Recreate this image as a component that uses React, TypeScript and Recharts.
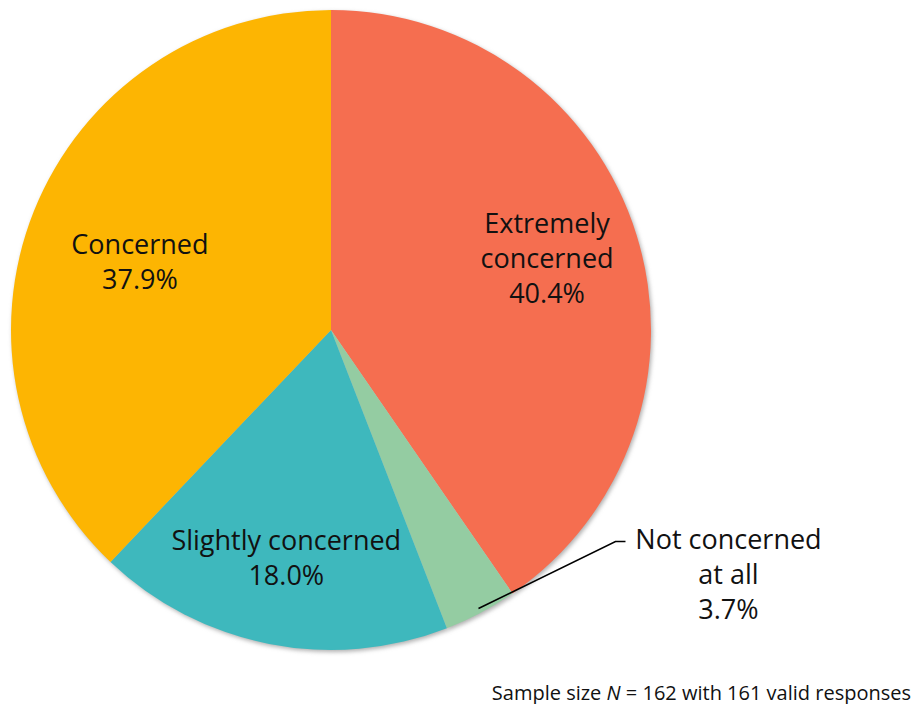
import React from "react";
import { PieChart, Pie, Cell } from "recharts";

const categories = ["Extremely concerned", "Not concerned at all", "Slightly concerned", "Concerned"];
const values = [40.4, 3.7, 18.0, 37.9];
const labelLines = [["Extremely", "concerned"], ["Not concerned", "at all"], ["Slightly concerned"], ["Concerned"]];
const footnotePre = "Sample size ";
const footnoteN = "N";
const footnotePost = " = 162 with 161 valid responses";

const colors = ["#F56E50", "#94CCA2", "#3EB8BD", "#FDB502"];
const labelRadiusFactor = [0.707, 0, 0.722, 0.643];
const labelOffsetY = [-5, 0, 0, 7];
const FONT = "'Open Sans', Lato, sans-serif";
const FS = 27;
const LH = 35;

const data = categories.map((name, i) => ({ name, value: values[i] }));

const RAD = Math.PI / 180;

const renderLabel = (props: any) => {
  const { cx, cy, midAngle, outerRadius, index, value } = props;
  const lines = [...labelLines[index], `${value.toFixed(1)}%`];
  if (index === 1) {
    const sx = cx + outerRadius * 0.985 * Math.cos(-midAngle * RAD);
    const sy = cy + outerRadius * 0.985 * Math.sin(-midAngle * RAD);
    const ex = sx + 137;
    const ey = sy - 67;
    const tx = ex + 10;
    const textCx = tx + 103;
    const ty = ey - 3;
    return (
      <g>
        <path d={`M${sx},${sy} L${ex},${ey} L${tx},${ey}`} stroke="#000" strokeWidth={1.6} fill="none" />
        <text x={textCx} y={ty} textAnchor="middle" fontFamily={FONT} fontSize={FS} fill="#111">
          {lines.map((l, k) => (
            <tspan key={k} x={textCx} y={ty + k * LH} dominantBaseline="central">{l}</tspan>
          ))}
        </text>
      </g>
    );
  }
  const r = outerRadius * labelRadiusFactor[index];
  const x = cx + r * Math.cos(-midAngle * RAD);
  const y = cy + r * Math.sin(-midAngle * RAD) + labelOffsetY[index];
  const y0 = y - ((lines.length - 1) * LH) / 2;
  return (
    <text x={x} y={y0} textAnchor="middle" fontFamily={FONT} fontSize={FS} fill="#111">
      {lines.map((l, k) => (
        <tspan key={k} x={x} y={y0 + k * LH} dominantBaseline="central">{l}</tspan>
      ))}
    </text>
  );
};

export default function App() {
  return (
    <div style={{ position: "absolute", left: 0, top: 0, width: 913, height: 704, background: "#fff" }}>
      <PieChart width={913} height={704} margin={{ top: 0, right: 0, bottom: 0, left: 0 }}>
        <defs>
          <filter id="blurShadow" x="-10%" y="-10%" width="120%" height="120%">
            <feGaussianBlur stdDeviation="2" />
          </filter>
        </defs>
        <Pie
          data={data}
          dataKey="value"
          cx={332.5}
          cy={332}
          outerRadius={320}
          startAngle={90}
          endAngle={-270}
          stroke="none"
          fill="#b0b0b0"
          isAnimationActive={false}
          style={{ filter: "url(#blurShadow)" }}
          legendType="none"
        />
        <Pie
          data={data}
          dataKey="value"
          nameKey="name"
          cx={331}
          cy={330}
          outerRadius={320}
          startAngle={90}
          endAngle={-270}
          stroke="none"
          isAnimationActive={false}
          label={renderLabel}
          labelLine={false}
        >
          {data.map((d, i) => (
            <Cell key={d.name} fill={colors[i]} />
          ))}
        </Pie>
        <text x={911} y={692} textAnchor="end" dominantBaseline="central" fontFamily={FONT} fontSize={20} fill="#111">
          {footnotePre}
          <tspan fontStyle="italic">{footnoteN}</tspan>
          {footnotePost}
        </text>
      </PieChart>
    </div>
  );
}
